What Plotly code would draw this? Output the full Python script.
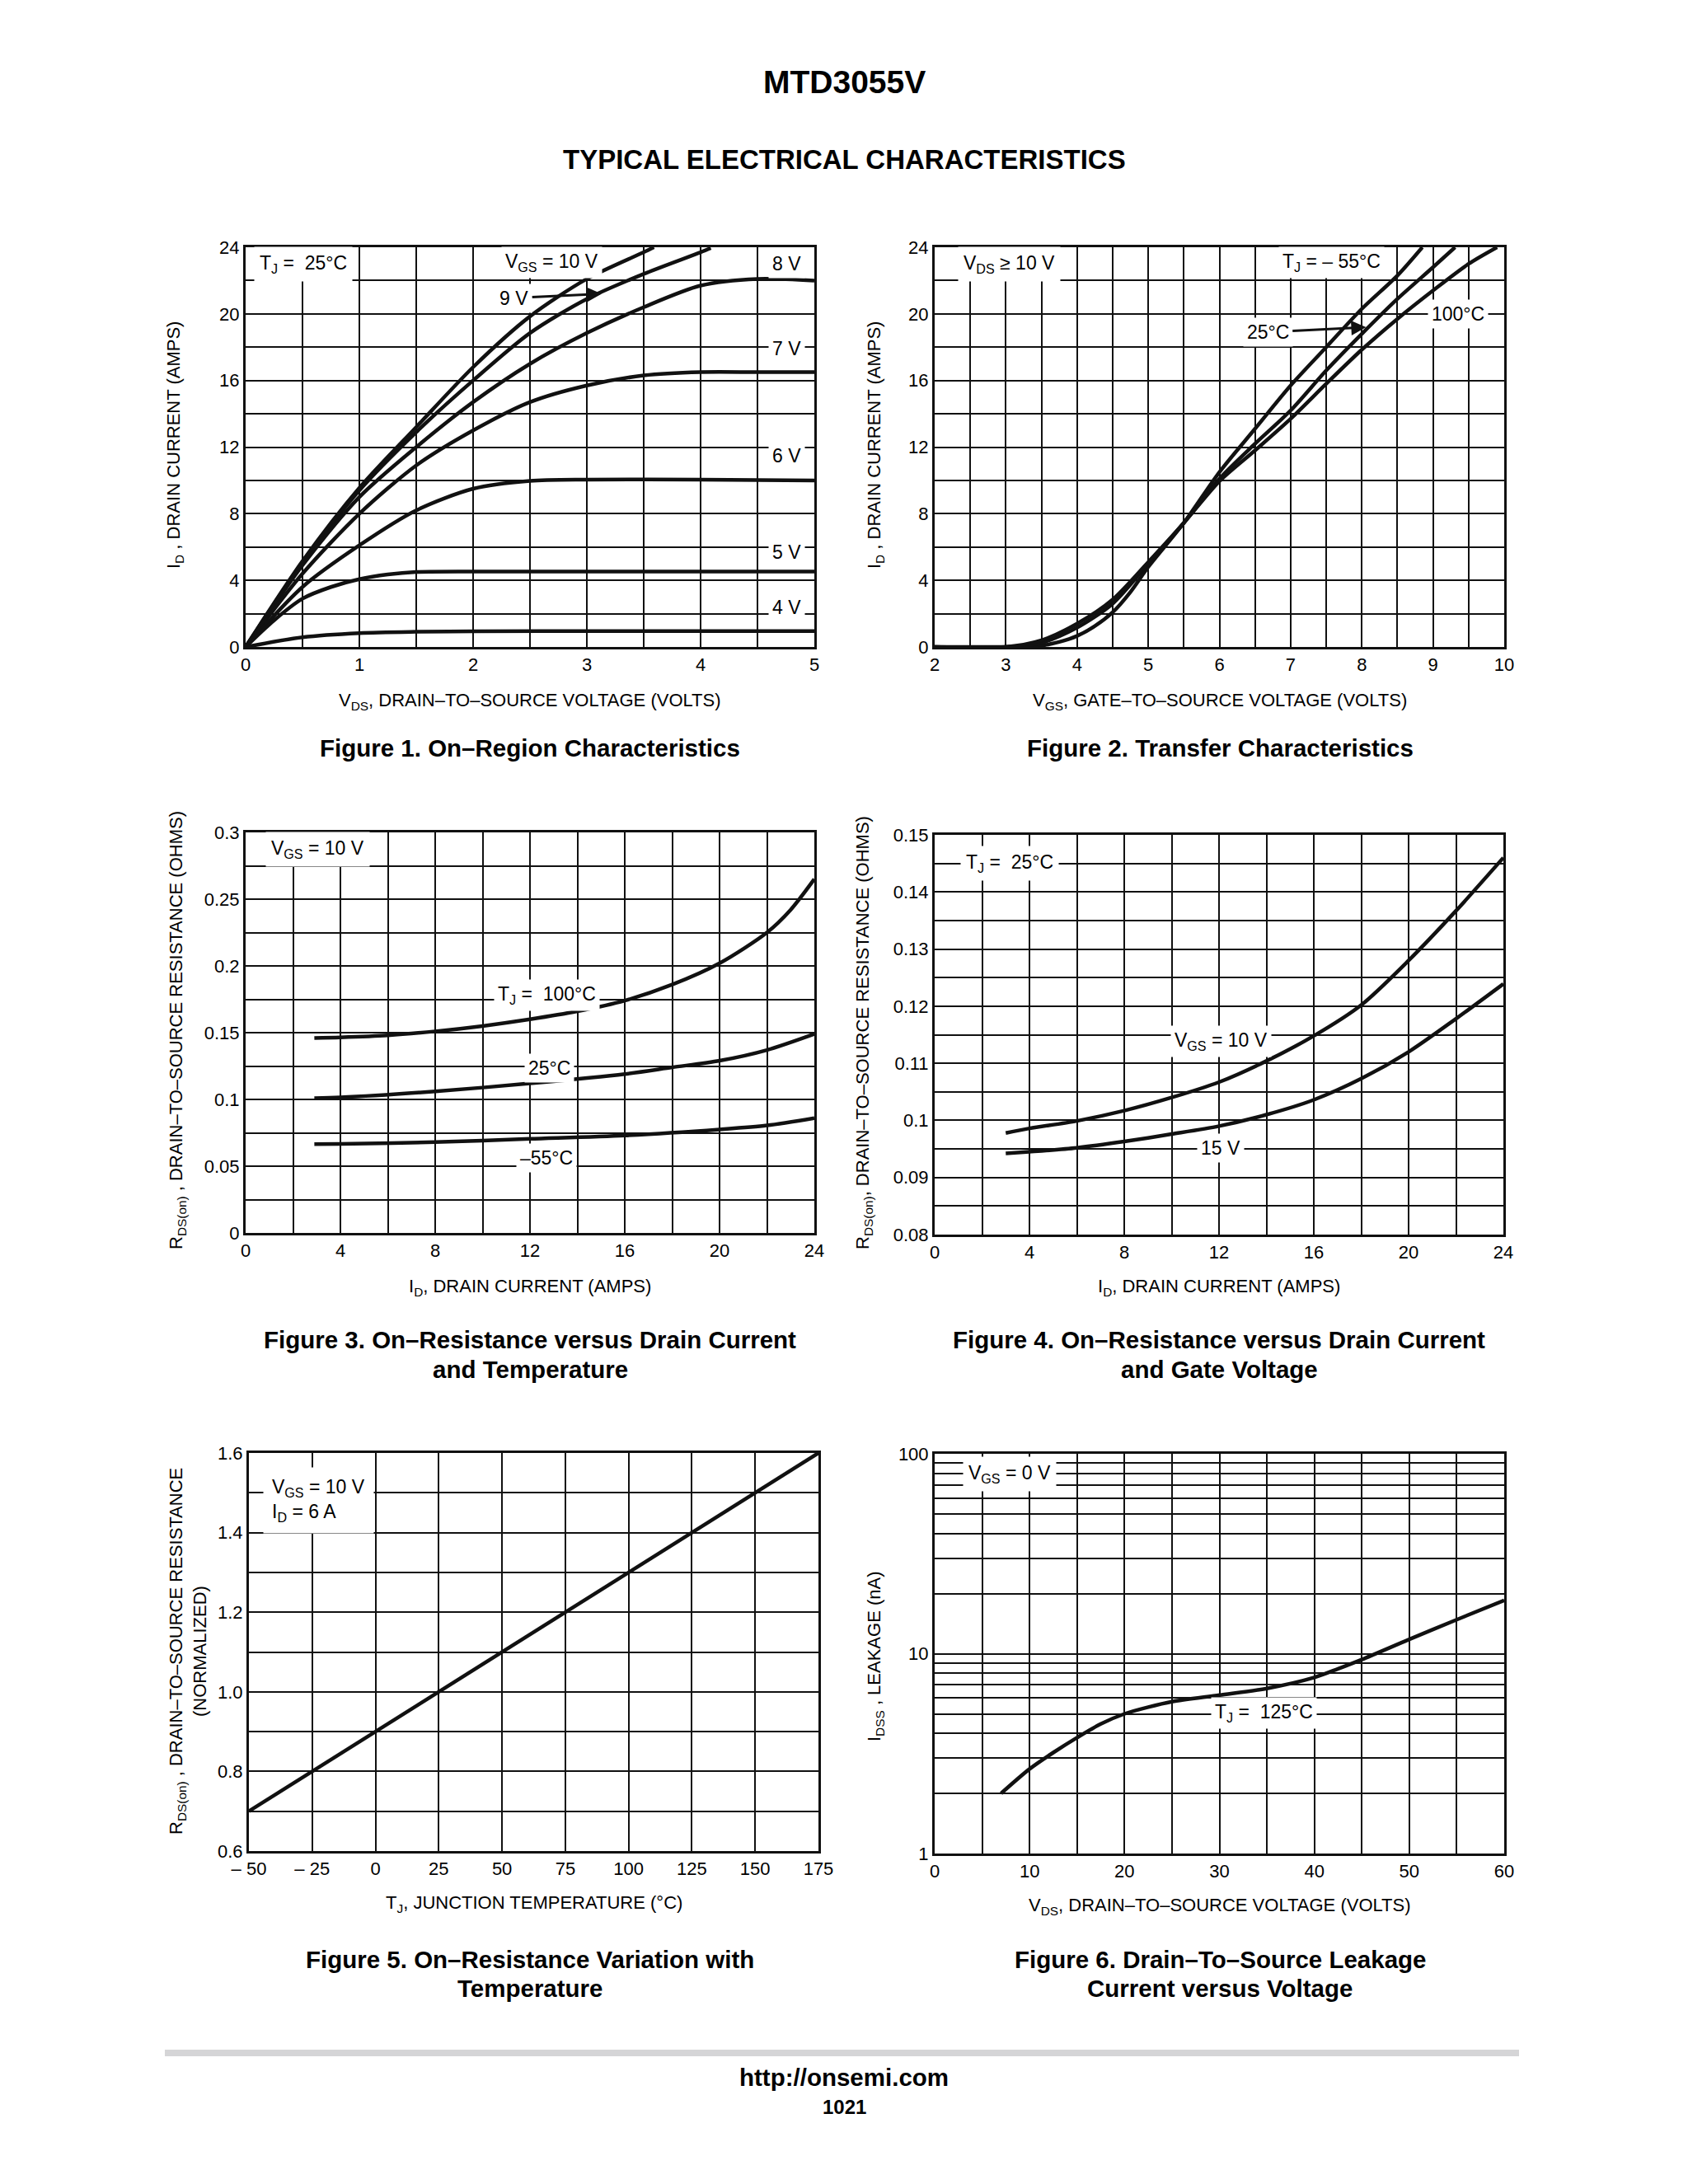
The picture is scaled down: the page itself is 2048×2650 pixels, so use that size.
import numpy as np
import plotly.graph_objects as go

W, H = 2048, 2650
FONT = "Liberation Sans, Arial, sans-serif"
BOLD = "Liberation Sans, Arial, sans-serif"
INK = "#111111"

# ---------------- Figure 1: On-Region Characteristics ----------------
f1_vgs10_vds = [0, 0.5, 1, 1.5, 2, 2.5, 3, 3.5, 3.59]
f1_vgs10_id = [0, 5.15, 9.55, 13.2, 16.8, 19.85, 22.1, 23.7, 24.0]
f1_vgs9_vds = [0, 0.5, 1, 1.5, 2, 2.5, 3, 3.5, 4, 4.09]
f1_vgs9_id = [0, 5.05, 9.4, 12.9, 16.0, 18.85, 20.9, 22.4, 23.7, 23.95]
f1_vgs8_vds = [0, 0.5, 1, 1.5, 2, 2.5, 3, 3.5, 4, 4.5, 5]
f1_vgs8_id = [0, 4.9, 9.0, 12.0, 14.7, 17.0, 18.85, 20.4, 21.7, 22.1, 22.0]
f1_vgs7_vds = [0, 0.5, 1, 1.5, 2, 2.5, 3, 3.5, 4, 4.5, 5]
f1_vgs7_id = [0, 4.4, 8.0, 10.9, 13.0, 14.7, 15.7, 16.3, 16.5, 16.5, 16.5]
f1_vgs6_vds = [0, 0.5, 1, 1.5, 2, 2.5, 3, 4, 5]
f1_vgs6_id = [0, 3.6, 6.1, 8.2, 9.5, 9.97, 10.05, 10.05, 10.0]
f1_vgs5_vds = [0, 0.25, 0.5, 0.75, 1, 1.25, 1.5, 2, 3, 5]
f1_vgs5_id = [0, 1.6, 2.9, 3.6, 4.07, 4.35, 4.5, 4.53, 4.53, 4.53]
f1_vgs4_vds = [0, 0.5, 1, 1.5, 2, 3, 5]
f1_vgs4_id = [0, 0.58, 0.83, 0.91, 0.94, 0.95, 0.95]

# ---------------- Figure 2: Transfer Characteristics ----------------
f2_m55_vgs = [2, 3, 3.25, 3.5, 3.75, 4, 4.25, 4.5, 4.75, 5, 5.5, 6, 6.5, 7, 7.5, 8, 8.5, 8.85]
f2_m55_id = [0, 0, 0.02, 0.08, 0.3, 0.66, 1.25, 2.08, 3.3, 4.8, 7.45, 10.5, 13.1, 15.7, 18.0, 20.3, 22.3, 24.0]
f2_25_vgs = [2, 3, 3.5, 4, 4.5, 5, 5.5, 6, 6.5, 7, 7.5, 8, 8.5, 9, 9.31]
f2_25_id = [0, 0, 0.25, 1.16, 2.6, 5.0, 7.45, 10.1, 12.2, 14.2, 16.6, 18.8, 20.9, 22.8, 24.0]
f2_100_vgs = [2, 3, 3.5, 4, 4.5, 5, 5.5, 6, 6.5, 7, 7.5, 8, 8.5, 9, 9.5, 9.9]
f2_100_id = [0, 0, 0.4, 1.4, 2.85, 5.1, 7.45, 9.95, 11.8, 13.7, 15.8, 17.85, 19.7, 21.4, 23.0, 24.0]

# ---------------- Figure 3: RDS(on) vs ID and temperature ----------------
f3_100_id = [2.9, 4, 6, 8, 10, 12, 14, 16, 18, 20, 22, 23, 24]
f3_100_r = [0.146, 0.1465, 0.148, 0.151, 0.155, 0.160, 0.166, 0.174, 0.186, 0.202, 0.225, 0.242, 0.265]
f3_25_id = [2.9, 4, 8, 12, 16, 18, 20, 22, 24]
f3_25_r = [0.101, 0.1015, 0.106, 0.112, 0.119, 0.124, 0.129, 0.137, 0.149]
f3_m55_id = [2.9, 4, 8, 12, 16, 20, 22, 24]
f3_m55_r = [0.0665, 0.0667, 0.068, 0.0705, 0.073, 0.0775, 0.0805, 0.086]

# ---------------- Figure 4: RDS(on) vs ID and gate voltage ----------------
f4_10v_id = [3, 4, 6, 8, 10, 12, 14, 16, 18, 20, 22, 24]
f4_10v_r = [0.0978, 0.0986, 0.0999, 0.1017, 0.1040, 0.1067, 0.1104, 0.1148, 0.1202, 0.1280, 0.1367, 0.1460]
f4_15v_id = [3, 4, 6, 8, 10, 12, 14, 16, 18, 20, 22, 24]
f4_15v_r = [0.0942, 0.0945, 0.0952, 0.0963, 0.0976, 0.0990, 0.1010, 0.1036, 0.1073, 0.1120, 0.1178, 0.1239]

# ---------------- Figure 5: normalized RDS(on) vs temperature ----------------
f5_tj = [-50, -25, 0, 25, 50, 75, 100, 125, 150, 175]
f5_r = [0.7, 0.8, 0.9, 1.0, 1.1, 1.2, 1.3, 1.4, 1.5, 1.6]

# ---------------- Figure 6: IDSS leakage vs VDS ----------------
f6_vds = [7, 10, 12.5, 15, 17.5, 20, 22.5, 25, 30, 35, 40, 42.5, 45, 50, 55, 60]
f6_idss = [2.0, 2.65, 3.2, 3.8, 4.45, 5.0, 5.4, 5.75, 6.2, 6.7, 7.6, 8.4, 9.35, 11.8, 14.8, 18.5]

# ---------------- tick labels ----------------
f1_xlabels = {0: "0", 1: "1", 2: "2", 3: "3", 4: "4", 5: "5"}
f12_ylabels = {0: "0", 4: "4", 8: "8", 12: "12", 16: "16", 20: "20", 24: "24"}
f2_xlabels = {v: str(v) for v in [2, 3, 4, 5, 6, 7, 8, 9, 10]}
f34_xlabels = {0: "0", 4: "4", 8: "8", 12: "12", 16: "16", 20: "20", 24: "24"}
f3_ylabels = {0: "0", 0.05: "0.05", 0.1: "0.1", 0.15: "0.15", 0.2: "0.2", 0.25: "0.25", 0.3: "0.3"}
f4_ylabels = {0.08: "0.08", 0.09: "0.09", 0.1: "0.1", 0.11: "0.11", 0.12: "0.12",
              0.13: "0.13", 0.14: "0.14", 0.15: "0.15"}
f5_xlabels = {-50: "\u2013 50", -25: "\u2013 25", 0: "0", 25: "25", 50: "50", 75: "75",
              100: "100", 125: "125", 150: "150", 175: "175"}
f5_ylabels = {0.6: "0.6", 0.8: "0.8", 1.0: "1.0", 1.2: "1.2", 1.4: "1.4", 1.6: "1.6"}
f6_xlabels = {0: "0", 10: "10", 20: "20", 30: "30", 40: "40", 50: "50", 60: "60"}
f6_ylabels = {1: "1", 10: "10", 100: "100"}


def ticks(start, stop, step, labels):
    vals = [round(v, 4) for v in np.arange(start, stop + step / 2, step)]
    lab = {round(k, 4): t for k, t in labels.items()}
    return vals, [lab.get(v, "") for v in vals]


f6_ygrid = [m * 10 ** d for d in range(2) for m in range(1, 10)] + [100]

fig = go.Figure()

panels = {
    1: (298, 988, 300, 785),
    2: (1134, 1825, 300, 785),
    3: (298, 988, 1010, 1496),
    4: (1134, 1824, 1013, 1498),
    5: (302, 993, 1763, 2246),
    6: (1134, 1825, 1764, 2249),
}


def px(x):
    return x / W


def py(y):
    return 1 - y / H


axis_base = dict(showline=True, linecolor=INK, linewidth=3, mirror=True,
                 showgrid=True, gridcolor=INK, gridwidth=2, zeroline=False,
                 ticks="", tickfont=dict(family=FONT, size=22, color="black"),
                 fixedrange=True, tickmode="array", automargin=False)

xt = {
    1: (ticks(0, 5, 0.5, f1_xlabels), [0, 5]),
    2: (ticks(2, 10, 0.5, f2_xlabels), [2, 10]),
    3: (ticks(0, 24, 2, f34_xlabels), [0, 24]),
    4: (ticks(0, 24, 2, f34_xlabels), [0, 24]),
    5: (ticks(-50, 175, 25, f5_xlabels), [-50, 175]),
    6: (ticks(0, 60, 5, f6_xlabels), [0, 60]),
}
yt = {
    1: (ticks(0, 24, 2, f12_ylabels), [0, 24]),
    2: (ticks(0, 24, 2, f12_ylabels), [0, 24]),
    3: (ticks(0, 0.3, 0.025, f3_ylabels), [0, 0.3]),
    4: (ticks(0.08, 0.15, 0.005, f4_ylabels), [0.08, 0.15]),
    5: (ticks(0.6, 1.6, 0.1, f5_ylabels), [0.6, 1.6]),
    6: ((f6_ygrid, [f6_ylabels.get(v, "") for v in f6_ygrid]), [0, 2]),
}

layout_axes = {}
for i, (x0, x1, y0, y1) in panels.items():
    (xv, xtxt), xr = xt[i]
    (yv, ytxt), yr = yt[i]
    xa = dict(axis_base, domain=[px(x0), px(x1)], range=xr, tickvals=xv, ticktext=xtxt,
              anchor="y" if i == 1 else f"y{i}")
    ya = dict(axis_base, domain=[py(y1), py(y0)], range=yr, tickvals=yv, ticktext=ytxt,
              anchor="x" if i == 1 else f"x{i}")
    if i == 6:
        ya["type"] = "log"
    layout_axes["xaxis" if i == 1 else f"xaxis{i}"] = xa
    layout_axes["yaxis" if i == 1 else f"yaxis{i}"] = ya

LW = 4.5


def add_curve(x, y, i, shape="spline"):
    fig.add_trace(go.Scatter(x=x, y=y, mode="lines",
                             line=dict(color=INK, width=LW, shape=shape, smoothing=0.8)
                             if shape == "spline" else dict(color=INK, width=LW),
                             xaxis="x" if i == 1 else f"x{i}",
                             yaxis="y" if i == 1 else f"y{i}",
                             hoverinfo="skip"))


for xs, ys in [(f1_vgs10_vds, f1_vgs10_id), (f1_vgs9_vds, f1_vgs9_id), (f1_vgs8_vds, f1_vgs8_id),
               (f1_vgs7_vds, f1_vgs7_id), (f1_vgs6_vds, f1_vgs6_id), (f1_vgs5_vds, f1_vgs5_id),
               (f1_vgs4_vds, f1_vgs4_id)]:
    add_curve(xs, ys, 1)
for xs, ys in [(f2_m55_vgs, f2_m55_id), (f2_25_vgs, f2_25_id), (f2_100_vgs, f2_100_id)]:
    add_curve(xs, ys, 2)
for xs, ys in [(f3_100_id, f3_100_r), (f3_25_id, f3_25_r), (f3_m55_id, f3_m55_r)]:
    add_curve(xs, ys, 3)
for xs, ys in [(f4_10v_id, f4_10v_r), (f4_15v_id, f4_15v_r)]:
    add_curve(xs, ys, 4)
add_curve(f5_tj, f5_r, 5, shape="linear")
add_curve(f6_vds, f6_idss, 6)

ann = []
LAB = 23


def lab(i, x, y, text, **kw):
    d = dict(x=x, y=y, text=text, xref="x" if i == 1 else f"x{i}", yref="y" if i == 1 else f"y{i}",
             showarrow=False, bgcolor="white", borderpad=4,
             font=dict(family=FONT, size=LAB, color="black"))
    d.update(kw)
    ann.append(d)


ARW = dict(showarrow=True, arrowhead=2, arrowsize=1.2, arrowwidth=3, arrowcolor=INK)
# Figure 1 labels
lab(1, 0.51, 23.0, "T<sub>J</sub> =  25°C", borderpad=6)
lab(1, 2.69, 23.1, "V<sub>GS</sub> = 10 V")
lab(1, 3.13, 21.2, "9 V", ax=2.36, ay=20.95, axref="x", ayref="y", **ARW)
lab(1, 4.76, 23.0, "8 V")
lab(1, 4.76, 17.9, "7 V")
lab(1, 4.76, 11.5, "6 V")
lab(1, 4.76, 5.7, "5 V")
lab(1, 4.76, 2.4, "4 V")
# Figure 2 labels
lab(2, 3.05, 23.0, "V<sub>DS</sub> ≥ 10 V", borderpad=6)
lab(2, 7.57, 23.1, "T<sub>J</sub> = \u2013 55°C")
lab(2, 9.35, 20.0, "100°C")
lab(2, 8.06, 19.2, "25°C", ax=6.68, ay=18.9, axref="x2", ayref="y2", **ARW)
# Figure 3 labels
lab(3, 3.06, 0.2876, "V<sub>GS</sub> = 10 V", borderpad=6)
lab(3, 12.7, 0.178, "T<sub>J</sub> =  100°C")
lab(3, 12.8, 0.1234, "25°C")
lab(3, 12.7, 0.0564, "\u201355°C")
# Figure 4 labels
lab(4, 3.15, 0.145, "T<sub>J</sub> =  25°C", borderpad=6)
lab(4, 12.08, 0.1138, "V<sub>GS</sub> = 10 V")
lab(4, 12.08, 0.0952, "15 V")
# Figure 5 labels
lab(5, -22.5, 1.48, "V<sub>GS</sub> = 10 V<br>I<sub>D</sub> = 6 A", align="left", borderpad=10)
# Figure 6 labels
lab(6, 7.9, np.log10(79), "V<sub>GS</sub> = 0 V", borderpad=6)
lab(6, 34.7, np.log10(5.06), "T<sub>J</sub> =  125°C")


def ptext(x, y, text, size=22, family=FONT, angle=0, color="black"):
    ann.append(dict(x=px(x), y=py(y), xref="paper", yref="paper", text=text, showarrow=False,
                    textangle=angle, xanchor="center", yanchor="middle",
                    font=dict(family=family, size=size, color=color)))


# axis titles
ptext(643, 851, "V<sub>DS</sub>, DRAIN\u2013TO\u2013SOURCE VOLTAGE (VOLTS)")
ptext(1480, 851, "V<sub>GS</sub>, GATE\u2013TO\u2013SOURCE VOLTAGE (VOLTS)")
ptext(643, 1562, "I<sub>D</sub>, DRAIN CURRENT (AMPS)")
ptext(1479, 1562, "I<sub>D</sub>, DRAIN CURRENT (AMPS)")
ptext(648, 2310, "T<sub>J</sub>, JUNCTION TEMPERATURE (°C)")
ptext(1480, 2313, "V<sub>DS</sub>, DRAIN\u2013TO\u2013SOURCE VOLTAGE (VOLTS)")

ptext(212, 540, "I<sub>D</sub> , DRAIN CURRENT (AMPS)", angle=-90)
ptext(1062, 540, "I<sub>D</sub> , DRAIN CURRENT (AMPS)", angle=-90)
ptext(215, 1250, "R<sub>DS(on)</sub> , DRAIN\u2013TO\u2013SOURCE RESISTANCE (OHMS)", angle=-90)
ptext(1048, 1253, "R<sub>DS(on)</sub>, DRAIN\u2013TO\u2013SOURCE RESISTANCE (OHMS)", angle=-90)
ptext(215, 2004, "R<sub>DS(on)</sub> , DRAIN\u2013TO\u2013SOURCE RESISTANCE", angle=-90)
ptext(242, 2004, "(NORMALIZED)", angle=-90)
ptext(1062, 2010, "I<sub>DSS</sub> , LEAKAGE (nA)", angle=-90)

# captions
CAP = dict(size=29.5, family=BOLD)
ptext(643, 907, "<b>Figure 1. On\u2013Region Characteristics</b>", **CAP)
ptext(1480, 907, "<b>Figure 2. Transfer Characteristics</b>", **CAP)
ptext(643, 1625, "<b>Figure 3. On\u2013Resistance versus Drain Current</b>", **CAP)
ptext(643, 1662, "<b>and Temperature</b>", **CAP)
ptext(1479, 1625, "<b>Figure 4. On\u2013Resistance versus Drain Current</b>", **CAP)
ptext(1479, 1662, "<b>and Gate Voltage</b>", **CAP)
ptext(643, 2377, "<b>Figure 5. On\u2013Resistance Variation with</b>", **CAP)
ptext(643, 2412, "<b>Temperature</b>", **CAP)
ptext(1480, 2377, "<b>Figure 6. Drain\u2013To\u2013Source Leakage</b>", **CAP)
ptext(1480, 2412, "<b>Current versus Voltage</b>", **CAP)

# page header / footer
ptext(1024, 100, "<b>MTD3055V</b>", size=39, family=BOLD)
ptext(1024, 193, "<b>TYPICAL ELECTRICAL CHARACTERISTICS</b>", size=33, family=BOLD)
ptext(1024, 2520, "<b>http://onsemi.com</b>", size=29.5, family=BOLD)
ptext(1024, 2556, "<b>1021</b>", size=24, family=BOLD)

shapes = [dict(type="line", xref="paper", yref="paper", x0=px(200), x1=px(1843),
               y0=py(2491), y1=py(2491), line=dict(color="#d5d5d7", width=8))]

fig.update_layout(width=W, height=H, margin=dict(l=0, r=0, t=0, b=0, pad=0, autoexpand=False),
                  paper_bgcolor="white", plot_bgcolor="white", showlegend=False,
                  annotations=ann, shapes=shapes, **layout_axes)

fig.write_html("out.html", config={"displayModeBar": False, "staticPlot": True},
               post_script="document.body.style.margin='0';document.body.style.overflow='hidden';")
